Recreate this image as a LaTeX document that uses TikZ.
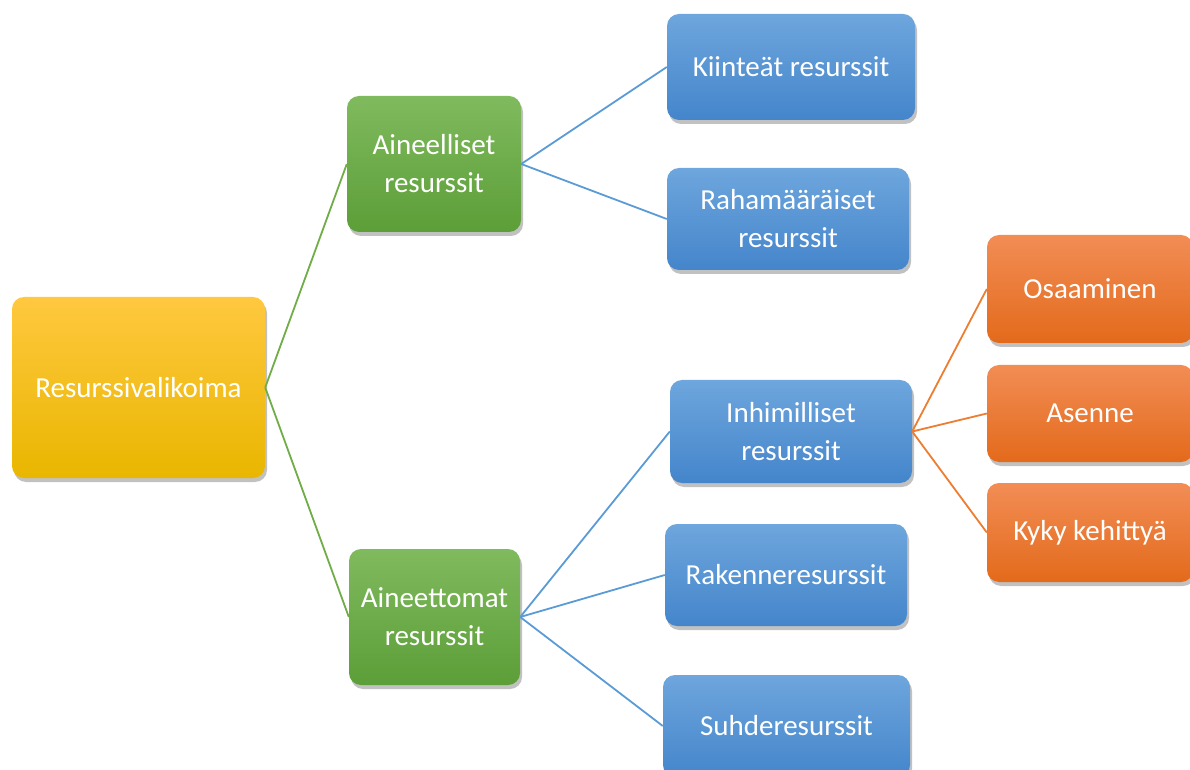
\documentclass[tikz,border=0pt]{standalone}
\usepackage{fontspec}
\setmainfont{Carlito}
\usetikzlibrary{shadows}
\usetikzlibrary{positioning}

\definecolor{yelTop}{HTML}{FFC83F}
\definecolor{yelBot}{HTML}{E9B600}
\definecolor{grnTop}{HTML}{80BA5E}
\definecolor{grnBot}{HTML}{5C9E38}
\definecolor{bluTop}{HTML}{6EA6DD}
\definecolor{bluBot}{HTML}{4485CB}
\definecolor{oraTop}{HTML}{F28D55}
\definecolor{oraBot}{HTML}{E36A1B}
\definecolor{grnLine}{HTML}{70AD47}
\definecolor{bluLine}{HTML}{5B9BD5}
\definecolor{oraLine}{HTML}{ED7D31}

\begin{document}
\begin{tikzpicture}
[x=1pt,y=1pt,
  every node/.style={font=\fontsize{29}{38}\selectfont,text=white,align=center},
  box/.style = {rectangle,rounded corners=12pt,inner sep=0pt,
        drop shadow={shadow xshift=2pt,shadow yshift=-4pt,opacity=0.35,fill=black!70}},
  yb/.style = {box,top color=yelTop,bottom color=yelBot},
  gb/.style = {box,top color=grnTop,bottom color=grnBot},
  bb/.style = {box,top color=bluTop,bottom color=bluBot},
  ob/.style = {box,top color=oraTop,bottom color=oraBot},
  gline/.style = {draw=grnLine,line width=1.8pt},
  bline/.style = {draw=bluLine,line width=1.8pt},
  oline/.style = {draw=oraLine,line width=1.8pt}]
\useasboundingbox (0,0) rectangle (1190,769);
\clip (0,0) rectangle (1190,769);

% level 0
\node[yb,minimum width=253,minimum height=181] (root) at (138.5,381.5) {Resurssivalikoima};
% level 1
\node[gb,minimum width=174,minimum height=136] (aine) at (434,605) {Aineelliset\\resurssit};
\node[gb,minimum width=171,minimum height=136] (aton) at (434.5,152) {Aineettomat\\resurssit};
% level 2
\node[bb,minimum width=248,minimum height=106] (kiin) at (791,702) {Kiinteät resurssit};
\node[bb,minimum width=242,minimum height=102] (raha) at (788,550) {Rahamääräiset\\resurssit};
\node[bb,minimum width=242,minimum height=103] (inhi) at (791,337.5) {Inhimilliset\\resurssit};
\node[bb,minimum width=242,minimum height=102] (rake) at (786,194) {Rakenneresurssit};
\node[bb,minimum width=247,minimum height=102] (suhd) at (786.5,43) {Suhderesurssit};
% level 3
\node[ob,minimum width=206,minimum height=108] (osaa) at (1090,480) {Osaaminen};
\node[ob,minimum width=206,minimum height=97] (asen) at (1090,355.5) {Asenne};
\node[ob,minimum width=206,minimum height=99] (kyky) at (1090,236.5) {Kyky kehittyä};
%
   \path[gline] (root.east) edge (aine.west) ;
   \path[gline] (root.east) edge (aton.west) ;
   \path[bline] (aine.east) edge (kiin.west) ;
   \path[bline] (aine.east) edge (raha.west) ;
   \path[bline] (aton.east) edge (inhi.west) ;
   \path[bline] (aton.east) edge (rake.west) ;
   \path[bline] (aton.east) edge (suhd.west) ;
   \path[oline] (inhi.east) edge (osaa.west) ;
   \path[oline] (inhi.east) edge (asen.west) ;
   \path[oline] (inhi.east) edge (kyky.west) ;
\end{tikzpicture}
\end{document}
